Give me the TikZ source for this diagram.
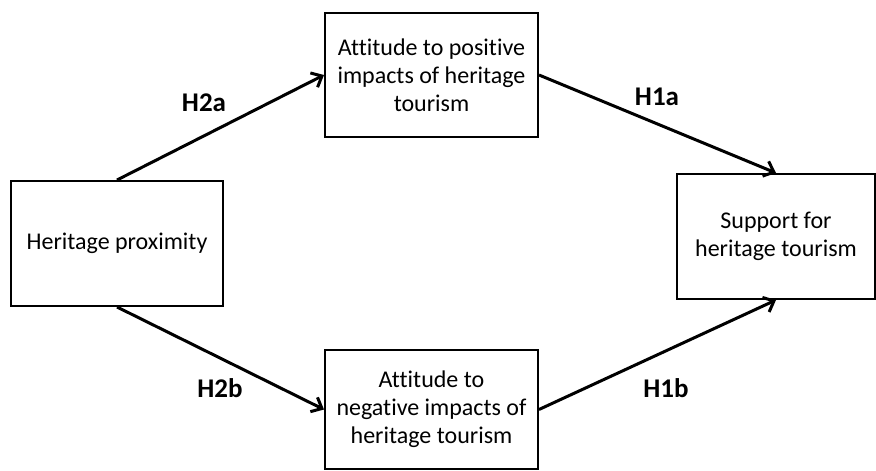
\documentclass[tikz,border=0pt]{standalone}
\usepackage{fontspec}
\setmainfont{Carlito}[Ligatures=NoCommon]
\usetikzlibrary{arrows.meta}

\begin{document}
\begin{tikzpicture}[x=1pt,y=-1pt]
    \tikzstyle{every node}=[font=\fontsize{24}{28}\selectfont]
    \tikzstyle{factor}=[draw,line width=2pt,align=center,inner sep=0pt]
    \tikzstyle{hyp}=[font=\fontsize{27}{28}\selectfont\bfseries]
    \tikzstyle{path}=[line width=3pt,-{Straight Barb[length=9pt,width=16pt,line width=3pt]}]
    \useasboundingbox (0,0) rectangle (876,471);

    \node[factor,minimum width=212pt,minimum height=125pt] (prox) at (117,243.5)
    {Heritage proximity};

    \node[factor,minimum width=213pt,minimum height=124pt] (pos) at (431.5,75)
    {Attitude to positive\\impacts of heritage\\tourism};

    \node[factor,minimum width=213pt,minimum height=119pt] (neg) at (431.5,409.5)
    {Attitude to\\negative impacts of\\heritage tourism};

    \node[factor,minimum width=198pt,minimum height=125pt] (supp) at (776,236.5)
    {Support for\\heritage tourism};

    \draw[path] (prox.north) -- (pos.west);
    \draw[path] (pos.east) -- (supp.north);
    \draw[path] (prox.south) -- (neg.west);
    \draw[path] (neg.east) -- (supp.south);

    \node[hyp] (h2a) at (204,103) {H2a};
    \node[hyp] (h1a) at (657,97) {H1a};
    \node[hyp] (h2b) at (220,388) {H2b};
    \node[hyp] (h1b) at (666,388) {H1b};

\end{tikzpicture}
\end{document}
